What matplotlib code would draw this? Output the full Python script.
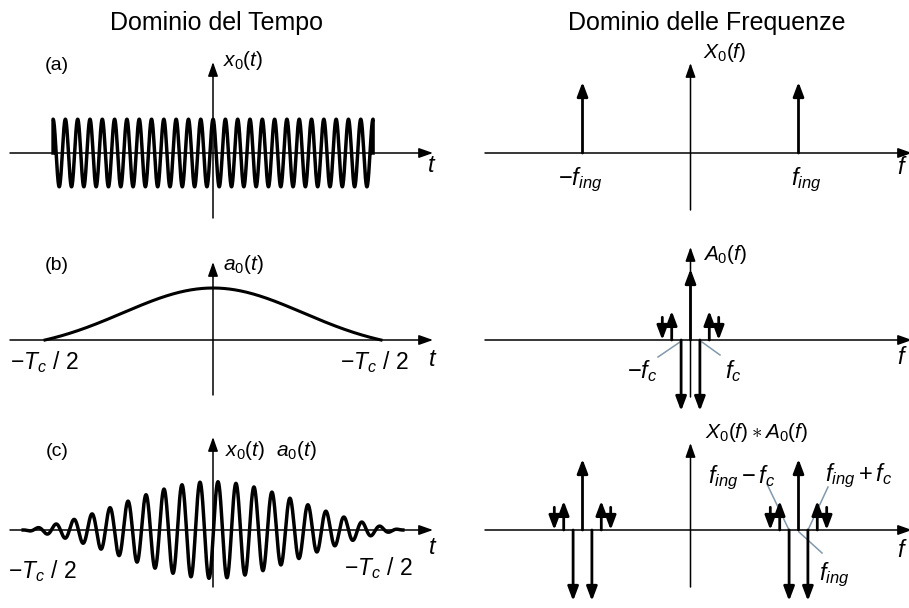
import numpy as np
import matplotlib
matplotlib.use("Agg")
import matplotlib.pyplot as plt
from matplotlib.patches import ArrowStyle

plt.rcParams['font.family'] = ['Liberation Sans', 'DejaVu Sans']
plt.rcParams['mathtext.fontset'] = 'custom'
plt.rcParams['mathtext.rm'] = 'Liberation Sans'
plt.rcParams['mathtext.it'] = 'Liberation Sans:italic'
plt.rcParams['mathtext.bf'] = 'Liberation Sans:bold'

# ---------------- data ----------------
# time domain (t in units of T_c/2)
carrier_freq_a = 13.65      # cycles per unit t, panel (a)
carrier_start_a = -0.952    # start of x0(t)
carrier_cycles_a = 26
amp_a = 0.65
env_sigma = 0.536           # gaussian-like envelope width
env_half_b = 1.0            # a0(t) support half-width (T_c/2)
amp_b = 1.0
carrier_freq_c = 9.33
carrier_phase_c = -0.024
env_half_c = 1.13
amp_c = 0.93

# frequency domain (f in units of f_ing)
X0_freqs = [-1.0, 1.0]
X0_amps = [1.0, 1.0]
f_c = 0.087
A0_harm = [-3, -2, -1, 0, 1, 2, 3]
A0_amps = [-0.32, 0.41, -1.0, 1.0, -1.0, 0.41, -0.32]

# ---------------- figure ----------------
W, H = 909, 608
fig = plt.figure(figsize=(W / 100, H / 100), dpi=100)

def make_ax(px0, px1, py0, py1, cx, sx, ay, sy):
    ax = fig.add_axes([px0 / W, 1 - py1 / H, (px1 - px0) / W, (py1 - py0) / H])
    ax.set_xlim((px0 - cx) / sx, (px1 - cx) / sx)
    ax.set_ylim((ay - py1) / sy, (ay - py0) / sy)
    ax.axis('off')
    ax._map = (cx, sx, ay, sy)
    return ax

def D(ax, px, py):
    cx, sx, ay, sy = ax._map
    return ((px - cx) / sx, (ay - py) / sy)

def arrow(ax, base, tip, lw=1.1, hl=0.85, hw=0.3, ms=10, color='k'):
    ax.annotate('', xy=tip, xytext=base,
                arrowprops=dict(arrowstyle=ArrowStyle('-|>', head_length=hl, head_width=hw),
                                lw=lw, color=color, shrinkA=0, shrinkB=0,
                                mutation_scale=ms),
                annotation_clip=False)

def axes_arrows(ax, hx0, hx1, vbot, vtop, cxp, ayp):
    arrow(ax, D(ax, hx0, ayp), D(ax, hx1, ayp))
    arrow(ax, D(ax, cxp, vbot), D(ax, cxp, vtop))

def ftext(px, py, s, size, **kw):
    fig.text(px / W, 1 - py / H, s, ha=kw.pop('ha', 'center'), va=kw.pop('va', 'center'),
             fontsize=size, color='k', **kw)

def leader(ax, p0, p1):
    a, b = D(ax, *p0), D(ax, *p1)
    ax.plot([a[0], b[0]], [a[1], b[1]], color='#8199ab', lw=1.1, clip_on=False)

def impulses(ax, freqs, amps):
    for f, a in zip(freqs, amps):
        if a < 0 and abs(a) < 0.5:
            arrow(ax, (f, abs(a)), (f, 0.0), lw=2.0, hl=0.85, hw=0.32, ms=10)
        else:
            arrow(ax, (f, 0.0), (f, a), lw=2.0, hl=0.85, hw=0.32, ms=10)

LCX, LSX, LSY = 213, 168, 52
RCX, RSX, RSY = 690.5, 108, 71
rows = {'a': (35, 222, 153), 'b': (222, 414, 340), 'c': (414, 608, 530)}

def env(t, half):
    g = np.exp(-t ** 2 / (2 * env_sigma ** 2))
    g0 = np.exp(-half ** 2 / (2 * env_sigma ** 2))
    return np.clip((g - g0) / (1 - g0), 0, None)

# ---- (a) time ----
py0, py1, ay = rows['a']
ax = make_ax(0, 450, py0, py1, LCX, LSX, ay, LSY)
axes_arrows(ax, 10, 433, 218, 62, LCX, ay)
t_end = carrier_start_a + carrier_cycles_a / carrier_freq_a
t = np.linspace(carrier_start_a, t_end, 4000)
y = amp_a * np.cos(2 * np.pi * carrier_freq_a * (t - carrier_start_a))
t = np.concatenate([[carrier_start_a], t, [t_end]])
y = np.concatenate([[0], y, [0]])
ax.plot(t, y, color='k', lw=2.5, clip_on=False)

# ---- (b) time ----
py0, py1, ay = rows['b']
ax = make_ax(0, 450, py0, py1, LCX, LSX, ay, LSY)
axes_arrows(ax, 10, 433, 395, 262, LCX, ay)
t = np.linspace(-env_half_b, env_half_b, 800)
ax.plot(t, amp_b * env(t, env_half_b), color='k', lw=2.2, clip_on=False)

# ---- (c) time ----
py0, py1, ay = rows['c']
ax = make_ax(0, 450, py0, py1, LCX, LSX, ay, LSY)
axes_arrows(ax, 10, 433, 587, 437, LCX, ay)
t = np.linspace(-env_half_c, env_half_c, 4000)
y = -amp_c * env(t, env_half_c) * np.cos(2 * np.pi * carrier_freq_c * (t - carrier_phase_c))
ax.plot(t, y, color='k', lw=2.5, clip_on=False)

# ---- (a) freq ----
py0, py1, ay = rows['a']
ax = make_ax(455, 909, py0, py1, RCX, RSX, ay, RSY)
axes_arrows(ax, 485, 912, 210, 63, RCX, ay)
impulses(ax, X0_freqs, X0_amps)

# ---- (b) freq ----
py0, py1, ay = rows['b']
ax = make_ax(455, 909, py0, py1, RCX, RSX, ay, RSY)
axes_arrows(ax, 485, 912, 397, 247, RCX, ay)
A0_freqs = [k * f_c for k in A0_harm]
impulses(ax, A0_freqs, A0_amps)
leader(ax, (658, 357), (680, 342))
leader(ax, (720, 355), (702, 342))

# ---- (c) freq: X0 * A0 ----
py0, py1, ay = rows['c']
ax = make_ax(455, 909, py0, py1, RCX, RSX, ay, RSY)
axes_arrows(ax, 485, 912, 587, 443, RCX, ay)
conv_f, conv_a = [], []
for fx, ax_amp in zip(X0_freqs, X0_amps):
    for fa, aa in zip(A0_freqs, A0_amps):
        conv_f.append(fx + fa)
        conv_a.append(ax_amp * aa)
impulses(ax, conv_f, conv_a)
leader(ax, (767, 484), (789, 530))
leader(ax, (828, 487), (808, 530))
leader(ax, (822, 553), (799, 532))

# ---------------- text ----------------
ftext(217, 23, 'Dominio del Tempo', 18)
ftext(707, 23, 'Dominio delle Frequenze', 18)

ftext(57, 65, '(a)', 14)
ftext(57, 265, '(b)', 14)
ftext(57, 451, '(c)', 14)

ftext(243, 61, r'$x_0(t)$', 15)
ftext(243, 265, r'$a_0(t)$', 15)
ftext(271, 450, r'$x_0(t)\ \ a_0(t)$', 15)

ftext(432, 166, r'$t$', 17)
ftext(433, 360, r'$t$', 17)
ftext(433, 548, r'$t$', 17)
ftext(902, 168, r'$f$', 17)
ftext(902, 358, r'$f$', 17)
ftext(902, 551, r'$f$', 17)

ftext(44, 362, r'$-T_c\ /\ 2$', 16.5)
ftext(374, 362, r'$-T_c\ /\ 2$', 16.5)
ftext(42, 571, r'$-T_c\ /\ 2$', 16.5)
ftext(378, 568, r'$-T_c\ /\ 2$', 16.5)

ftext(725, 53, r'$X_0(f)$', 15)
ftext(725, 255, r'$A_0(f)$', 15)
ftext(757, 432, r'$X_0(f) \ast A_0(f)$', 15)

ftext(580, 180, r'$-f_{ing}$', 17)
ftext(806, 180, r'$f_{ing}$', 17)
ftext(642, 371, r'$-f_c$', 17)
ftext(733, 371, r'$f_c$', 17)
ftext(742, 478, r'$f_{ing}-f_c$', 17)
ftext(859, 476, r'$f_{ing}+f_c$', 17)
ftext(834, 575, r'$f_{ing}$', 17)

fig.savefig('out.png', dpi=100, facecolor='white')
